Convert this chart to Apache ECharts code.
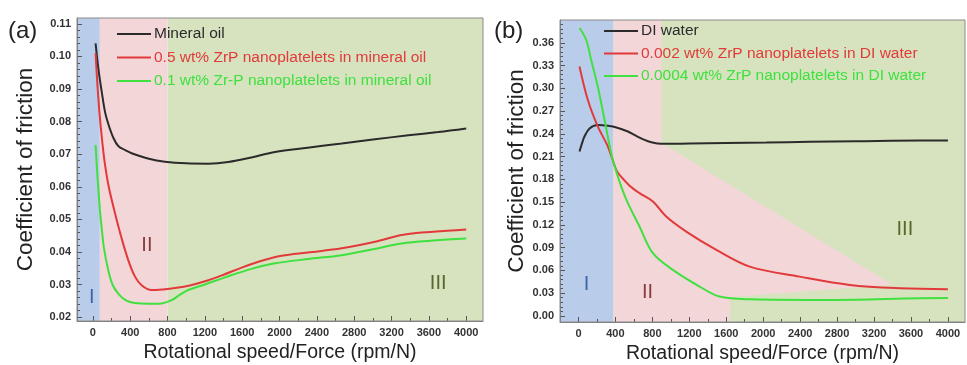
<!DOCTYPE html>
<html>
<head>
<meta charset="utf-8">
<script src="https://cdn.jsdelivr.net/npm/echarts@6.0.0/dist/echarts.min.js"></script>
<style>
  html, body { margin: 0; padding: 0; background: #fff; }
  #chart { width: 967px; height: 365px; }
</style>
</head>
<body>
<div id="chart"></div>
<script>
// ---- panel (a): mineral oil ----
const namesA = [
  'Mineral oil',
  '0.5 wt% ZrP nanoplatelets in mineral oil',
  '0.1 wt% Zr-P nanoplatelets in mineral oil'
];
const mineralOil = [
  [29, 0.104], [60, 0.096], [93, 0.0895], [130, 0.083], [164, 0.0794], [220, 0.075],
  [272, 0.0725], [350, 0.0712], [415, 0.0703], [600, 0.0686], [772, 0.0677],
  [1000, 0.0672], [1237, 0.0671], [1451, 0.0676], [1700, 0.069], [1952, 0.0707],
  [2300, 0.072], [2667, 0.0733], [3000, 0.0745], [3381, 0.0758], [3700, 0.0768], [4000, 0.0779]
];
const zrp05Oil = [
  [29, 0.101], [45, 0.093], [70, 0.083], [100, 0.074], [129, 0.067], [170, 0.060],
  [236, 0.052], [300, 0.045], [379, 0.0375], [450, 0.0325], [522, 0.0298], [629, 0.0283],
  [750, 0.0285], [879, 0.0289], [1050, 0.0298], [1237, 0.0313], [1400, 0.033], [1594, 0.0352],
  [1800, 0.0372], [2023, 0.0388], [2300, 0.0398], [2667, 0.0411], [3024, 0.0431],
  [3310, 0.0452], [3650, 0.0462], [4000, 0.0469]
];
const zrp01Oil = [
  [29, 0.0728], [45, 0.065], [57, 0.060], [75, 0.053], [93, 0.0477], [120, 0.041],
  [164, 0.0345], [210, 0.030], [272, 0.0272], [350, 0.0252], [450, 0.0243], [600, 0.0241],
  [736, 0.0242], [844, 0.0252], [930, 0.0268], [1022, 0.0283], [1200, 0.030], [1416, 0.0322],
  [1700, 0.0348], [1952, 0.0365], [2300, 0.0378], [2667, 0.039], [3000, 0.0408],
  [3310, 0.0426], [3650, 0.0435], [4000, 0.0441]
];
const xRangeA = [-170, 4180];
const yRangeA = [0.0188, 0.1118];
const yTicksA = [0.02, 0.03, 0.04, 0.05, 0.06, 0.07, 0.08, 0.09, 0.10, 0.11];
const regimeEdgesA = [75, 800];
const regimeLabelsA = [['I', -11, 0.0261], ['II', 579, 0.0421], ['III', 3700, 0.0304]];

// ---- panel (b): DI water ----
const namesB = [
  'DI water',
  '0.002 wt% ZrP nanoplatelets in DI water',
  '0.0004 wt% ZrP nanoplatelets in DI water'
];
const diWater = [
  [11, 0.2167], [40, 0.228], [65, 0.2365], [120, 0.247], [209, 0.2515], [318, 0.2505],
  [420, 0.248], [535, 0.243], [620, 0.2375], [715, 0.232], [800, 0.2285], [896, 0.2268],
  [1200, 0.2272], [1600, 0.2278], [2034, 0.2285], [2500, 0.2295], [3000, 0.2302],
  [3696, 0.2312], [4000, 0.2312]
];
const zrp002Water = [
  [11, 0.3288], [101, 0.2849], [209, 0.2497], [318, 0.2233], [410, 0.192], [444, 0.186],
  [550, 0.172], [661, 0.1618], [806, 0.1508], [950, 0.131], [1167, 0.1112], [1493, 0.087],
  [1854, 0.065], [2396, 0.0518], [2938, 0.0409], [3480, 0.0365], [4000, 0.0352]
];
const zrp0004Water = [
  [11, 0.3794], [83, 0.364], [137, 0.3376], [209, 0.3024], [282, 0.2585], [354, 0.2145],
  [410, 0.19], [470, 0.168], [530, 0.150], [661, 0.1178], [806, 0.0827], [1022, 0.0607],
  [1312, 0.0387], [1528, 0.0255], [1854, 0.022], [2753, 0.0211], [3696, 0.0233], [4000, 0.0235]
];
const xRangeB = [-200, 4185];
const yRangeB = [-0.008, 0.39];
const yTicksB = [0, 0.03, 0.06, 0.09, 0.12, 0.15, 0.18, 0.21, 0.24, 0.27, 0.30, 0.33, 0.36];
// regime II in (b) is a polygon reaching into regime III
const regimeIIB = [[380, 0.39], [900, 0.39], [900, 0.228], [3400, 0.041], [1640, 0.025], [1640, -0.008], [380, -0.008]];
const regimeEdgesB = [380, 900];
const regimeLabelsB = [['I', 87, 0.0409], ['II', 748, 0.0303], ['III', 3534, 0.1134]];

const xTicks = [0, 400, 800, 1200, 1600, 2000, 2400, 2800, 3200, 3600, 4000];

// ---- styles ----
const lineColors = ['#2b2b2b', '#e23a3a', '#3fe03f'];
const zoneColors = ['#b9cdea', '#f3d6d8', '#d7e3bf'];
const labelColors = ['#3d66a8', '#8a3b3b', '#56682c'];
const FONT = 'Liberation Sans, Arial, sans-serif';

function range(a, b, step) {
  const out = [];
  for (let v = a; v <= b + 1e-9; v += step) out.push(+v.toFixed(4));
  return out;
}

const zonesA = [
  [[xRangeA[0], yRangeA[0]], [regimeEdgesA[0], yRangeA[0]], [regimeEdgesA[0], yRangeA[1]], [xRangeA[0], yRangeA[1]]],
  [[regimeEdgesA[0], yRangeA[0]], [regimeEdgesA[1], yRangeA[0]], [regimeEdgesA[1], yRangeA[1]], [regimeEdgesA[0], yRangeA[1]]],
  [[regimeEdgesA[1], yRangeA[0]], [xRangeA[1], yRangeA[0]], [xRangeA[1], yRangeA[1]], [regimeEdgesA[1], yRangeA[1]]]
];
const zonesB = [
  [[xRangeB[0], yRangeB[0]], [regimeEdgesB[0], yRangeB[0]], [regimeEdgesB[0], yRangeB[1]], [xRangeB[0], yRangeB[1]]],
  regimeIIB,
  [[regimeEdgesB[0], yRangeB[0]], [xRangeB[1], yRangeB[0]], [xRangeB[1], yRangeB[1]], [regimeEdgesB[0], yRangeB[1]]]
];
// draw order: green under pink for (b)
const zoneOrderB = [0, 2, 1];

function zoneSeries(zones, order, axisIdx) {
  return {
    type: 'custom', xAxisIndex: axisIdx, yAxisIndex: axisIdx, silent: true, z: 0,
    data: order.map(i => [zones[i][0][0], zones[i][0][1], i]),
    renderItem: (params, api) => {
      const i = order[params.dataIndex];
      return {
        type: 'polygon',
        shape: { points: zones[i].map(p => api.coord(p)) },
        style: { fill: zoneColors[i] }
      };
    }
  };
}

function labelSeries(labels, axisIdx) {
  return {
    type: 'custom', xAxisIndex: axisIdx, yAxisIndex: axisIdx, silent: true, z: 3,
    data: labels.map(l => [l[1], l[2]]),
    renderItem: (params, api) => {
      const p = api.coord([api.value(0), api.value(1)]);
      return {
        type: 'text', x: p[0], y: p[1],
        style: {
          text: labels[params.dataIndex][0], fill: labelColors[params.dataIndex],
          fontSize: 20, fontFamily: FONT, align: 'center', verticalAlign: 'middle'
        }
      };
    }
  };
}

function lineSeries(name, data, idx, axisIdx) {
  return {
    name, type: 'line', data, xAxisIndex: axisIdx, yAxisIndex: axisIdx,
    smooth: 0.35, symbol: 'none', z: 4,
    lineStyle: { color: lineColors[idx], width: 2 },
    itemStyle: { color: lineColors[idx] }
  };
}

const grids = [
  { left: 77, top: 18, width: 406, height: 303 },
  { left: 560, top: 20, width: 405, height: 302 }
];

function mainX(gridIndex, rng) {
  return {
    type: 'value', gridIndex, min: rng[0], max: rng[1],
    name: 'Rotational speed/Force (rpm/N)', nameLocation: 'middle', nameGap: 17,
    nameTextStyle: { fontFamily: FONT, fontSize: 19.5, color: '#222' },
    axisLine: { show: true, onZero: false, lineStyle: { color: '#7a7a7a', width: 1 } },
    axisTick: { show: true, inside: true, length: 5, customValues: xTicks, lineStyle: { color: '#555' } },
    axisLabel: {
      customValues: xTicks, margin: 6, fontFamily: FONT, fontSize: 11, fontWeight: 'bold', color: '#333',
      formatter: v => String(v)
    },
    splitLine: { show: false }
  };
}
function minorX(gridIndex, rng) {
  return {
    type: 'value', gridIndex, min: rng[0], max: rng[1], position: 'bottom',
    axisLine: { show: false, onZero: false },
    axisTick: { show: true, inside: true, length: 3, customValues: range(200, 3800, 400), lineStyle: { color: '#555' } },
    axisLabel: { show: false }, splitLine: { show: false }
  };
}
function mainY(gridIndex, rng, ticks, gap) {
  return {
    type: 'value', gridIndex, min: rng[0], max: rng[1],
    name: 'Coefficient of friction', nameLocation: 'middle', nameGap: gap,
    nameTextStyle: { fontFamily: FONT, fontSize: 22.5, color: '#222' },
    axisLine: { show: true, onZero: false, lineStyle: { color: '#7a7a7a', width: 1 } },
    axisTick: { show: true, inside: true, length: 5, customValues: ticks, lineStyle: { color: '#555' } },
    axisLabel: {
      customValues: ticks, margin: 6, fontFamily: FONT, fontSize: 11, fontWeight: 'bold', color: '#333',
      formatter: v => v.toFixed(2)
    },
    splitLine: { show: false }
  };
}
function minorY(gridIndex, rng, ticks) {
  return {
    type: 'value', gridIndex, min: rng[0], max: rng[1], position: 'left',
    axisLine: { show: false, onZero: false },
    axisTick: { show: true, inside: true, length: 3, customValues: ticks, lineStyle: { color: '#555' } },
    axisLabel: { show: false }, splitLine: { show: false }
  };
}

function legendFor(names, left, top, gap) {
  return {
    left, top, orient: 'vertical', itemWidth: 34, itemHeight: 2, itemGap: gap, icon: 'rect',
    data: names.map((n, i) => ({ name: n, textStyle: { color: lineColors[i] }, itemStyle: { color: lineColors[i] } })),
    textStyle: { fontFamily: FONT, fontSize: 15.5, lineHeight: 16, padding: [0, 0, 0, -2] },
    selectedMode: false
  };
}

const chart = echarts.init(document.getElementById('chart'), null, { renderer: 'canvas' });
chart.setOption({
  backgroundColor: '#fff',
  animation: false,
  grid: grids.map(g => Object.assign({
    show: true, borderColor: '#8a8a8a', borderWidth: 1, backgroundColor: 'transparent', z: 5,
    containLabel: false, outerBoundsMode: 'none'
  }, g)),
  xAxis: [mainX(0, xRangeA), mainX(1, xRangeB), minorX(0, xRangeA), minorX(1, xRangeB)],
  yAxis: [
    mainY(0, yRangeA, yTicksA, 40), mainY(1, yRangeB, yTicksB, 31),
    minorY(0, yRangeA, range(0.02, 0.11, 0.002)), minorY(1, yRangeB, range(0, 0.384, 0.006))
  ],
  legend: [legendFor(namesA, 112, 21, 7.5), legendFor(namesB, 599, 18, 6.5)],
  graphic: [
    { type: 'text', left: 8, top: 19, style: { text: '(a)', fontFamily: FONT, fontSize: 24, fill: '#222' } },
    { type: 'text', left: 494, top: 19, style: { text: '(b)', fontFamily: FONT, fontSize: 24, fill: '#222' } }
  ],
  series: [
    zoneSeries(zonesA, [0, 1, 2], 0),
    zoneSeries(zonesB, zoneOrderB, 1),
    labelSeries(regimeLabelsA, 0),
    labelSeries(regimeLabelsB, 1),
    lineSeries(namesA[0], mineralOil, 0, 0),
    lineSeries(namesA[1], zrp05Oil, 1, 0),
    lineSeries(namesA[2], zrp01Oil, 2, 0),
    lineSeries(namesB[0], diWater, 0, 1),
    lineSeries(namesB[1], zrp002Water, 1, 1),
    lineSeries(namesB[2], zrp0004Water, 2, 1)
  ]
});
</script>
</body>
</html>
